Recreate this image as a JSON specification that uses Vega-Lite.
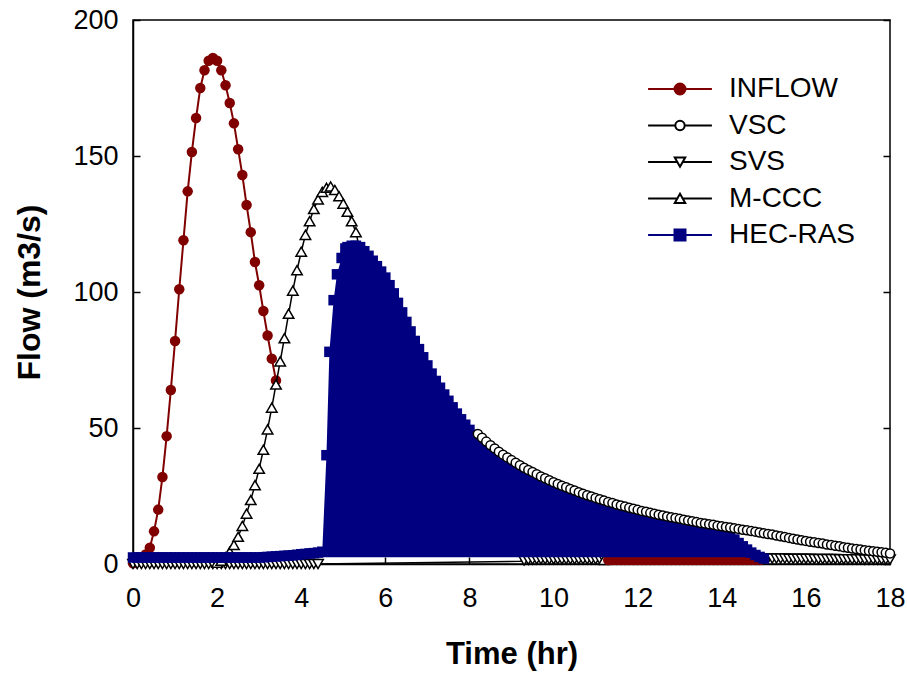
{
 "$schema": "https://vega.github.io/schema/vega-lite/v6.json",
 "width": 757, "height": 544, "autosize": "none",
 "padding": {"left": 133, "top": 20, "right": 17, "bottom": 109},
 "background": "white",
 "config": {
  "view": {"stroke": "black", "strokeWidth": 1.5},
  "font": "Liberation Sans",
  "axis": {"grid": false, "domainColor": "black", "domainWidth": 1.5, "tickColor": "black", "tickWidth": 1.5, "tickSize": -7,
   "labelFont": "Liberation Sans", "labelFontSize": 27, "labelColor": "black", "labelFlush": false, "labelOverlap": false,
   "titleFont": "Liberation Sans", "titleFontSize": 31, "titleFontWeight": "bold", "titleColor": "black"},
  "legend": {"symbolFillColor": "white", "symbolStrokeColor": "black"}
 },
 "datasets": {
  "inflow": [{"t":0,"q":0.3},{"t":0.1,"q":0.8},{"t":0.2,"q":1.8},{"t":0.3,"q":3.5},{"t":0.4,"q":6},{"t":0.5,"q":12},{"t":0.6,"q":20},{"t":0.7,"q":32},{"t":0.8,"q":47},{"t":0.9,"q":64},{"t":1.0,"q":82},{"t":1.1,"q":101},{"t":1.2,"q":119},{"t":1.3,"q":137},{"t":1.4,"q":151.5},{"t":1.5,"q":164},{"t":1.6,"q":175},{"t":1.7,"q":181.5},{"t":1.8,"q":185},{"t":1.9,"q":186},{"t":2.0,"q":185},{"t":2.1,"q":181.5},{"t":2.2,"q":176},{"t":2.3,"q":169.5},{"t":2.4,"q":162},{"t":2.5,"q":152.5},{"t":2.6,"q":143},{"t":2.7,"q":132},{"t":2.8,"q":122},{"t":2.9,"q":111},{"t":3.0,"q":102.5},{"t":3.1,"q":93},{"t":3.2,"q":84},{"t":3.3,"q":75.5},{"t":3.4,"q":67.5}],
  "inflowLow": [{"t":11.3,"q":1.5},{"t":11.4,"q":1.5},{"t":11.5,"q":1.5},{"t":11.6,"q":1.5},{"t":11.7,"q":1.5},{"t":11.8,"q":1.5},{"t":11.9,"q":1.5},{"t":12.0,"q":1.5},{"t":12.1,"q":1.5},{"t":12.2,"q":1.5},{"t":12.3,"q":1.5},{"t":12.4,"q":1.5},{"t":12.5,"q":1.5},{"t":12.6,"q":1.5},{"t":12.7,"q":1.5},{"t":12.8,"q":1.5},{"t":12.9,"q":1.5},{"t":13.0,"q":1.5},{"t":13.1,"q":1.5},{"t":13.2,"q":1.5},{"t":13.3,"q":1.5},{"t":13.4,"q":1.5},{"t":13.5,"q":1.5},{"t":13.6,"q":1.5},{"t":13.7,"q":1.5},{"t":13.8,"q":1.5},{"t":13.9,"q":1.5},{"t":14.0,"q":1.5},{"t":14.1,"q":1.5},{"t":14.2,"q":1.5},{"t":14.3,"q":1.5},{"t":14.4,"q":1.5},{"t":14.5,"q":1.5},{"t":14.6,"q":1.5},{"t":14.7,"q":1.5},{"t":14.8,"q":1.5},{"t":14.9,"q":1.5}],
  "vsc": [{"t":8.2,"q":47.8},{"t":8.3,"q":46.4},{"t":8.4,"q":45},{"t":8.5,"q":43.7},{"t":8.6,"q":42.5},{"t":8.7,"q":41.3},{"t":8.8,"q":40.2},{"t":8.9,"q":39.2},{"t":9.0,"q":38.2},{"t":9.1,"q":37.2},{"t":9.2,"q":36.3},{"t":9.3,"q":35.4},{"t":9.4,"q":34.6},{"t":9.5,"q":33.8},{"t":9.6,"q":33},{"t":9.7,"q":32.2},{"t":9.8,"q":31.5},{"t":9.9,"q":30.8},{"t":10.0,"q":30.1},{"t":10.1,"q":29.4},{"t":10.2,"q":28.8},{"t":10.3,"q":28.2},{"t":10.4,"q":27.6},{"t":10.5,"q":27},{"t":10.6,"q":26.4},{"t":10.7,"q":25.8},{"t":10.8,"q":25.3},{"t":10.9,"q":24.8},{"t":11.0,"q":24.3},{"t":11.1,"q":23.8},{"t":11.2,"q":23.3},{"t":11.3,"q":22.8},{"t":11.4,"q":22.4},{"t":11.5,"q":21.9},{"t":11.6,"q":21.5},{"t":11.7,"q":21.1},{"t":11.8,"q":20.7},{"t":11.9,"q":20.3},{"t":12.0,"q":19.9},{"t":12.1,"q":19.5},{"t":12.2,"q":19.2},{"t":12.3,"q":18.8},{"t":12.4,"q":18.5},{"t":12.5,"q":18.1},{"t":12.6,"q":17.8},{"t":12.7,"q":17.5},{"t":12.8,"q":17.2},{"t":12.9,"q":16.9},{"t":13.0,"q":16.6},{"t":13.1,"q":16.3},{"t":13.2,"q":16},{"t":13.3,"q":15.7},{"t":13.4,"q":15.4},{"t":13.5,"q":15.1},{"t":13.6,"q":14.9},{"t":13.7,"q":14.6},{"t":13.8,"q":14.4},{"t":13.9,"q":14.1},{"t":14.0,"q":13.9},{"t":14.1,"q":13.6},{"t":14.2,"q":13.4},{"t":14.3,"q":13.1},{"t":14.4,"q":12.9},{"t":14.5,"q":12.6},{"t":14.6,"q":12.4},{"t":14.7,"q":12.1},{"t":14.8,"q":11.9},{"t":14.9,"q":11.6},{"t":15.0,"q":11.3},{"t":15.1,"q":11},{"t":15.2,"q":10.8},{"t":15.3,"q":10.5},{"t":15.4,"q":10.2},{"t":15.5,"q":9.9},{"t":15.6,"q":9.6},{"t":15.7,"q":9.3},{"t":15.8,"q":9},{"t":15.9,"q":8.7},{"t":16.0,"q":8.5},{"t":16.1,"q":8.2},{"t":16.2,"q":8},{"t":16.3,"q":7.7},{"t":16.4,"q":7.5},{"t":16.5,"q":7.2},{"t":16.6,"q":7},{"t":16.7,"q":6.7},{"t":16.8,"q":6.5},{"t":16.9,"q":6.2},{"t":17.0,"q":6},{"t":17.1,"q":5.7},{"t":17.2,"q":5.5},{"t":17.3,"q":5.3},{"t":17.4,"q":5.1},{"t":17.5,"q":4.9},{"t":17.6,"q":4.7},{"t":17.7,"q":4.5},{"t":17.8,"q":4.3},{"t":17.9,"q":4.1},{"t":18.0,"q":3.9}],
  "svs": [{"t":0,"q":0},{"t":0.1,"q":0},{"t":0.2,"q":0},{"t":0.3,"q":0},{"t":0.4,"q":0},{"t":0.5,"q":0},{"t":0.6,"q":0},{"t":0.7,"q":0},{"t":0.8,"q":0},{"t":0.9,"q":0},{"t":1.0,"q":0},{"t":1.1,"q":0},{"t":1.2,"q":0},{"t":1.3,"q":0},{"t":1.4,"q":0},{"t":1.5,"q":0},{"t":1.6,"q":0},{"t":1.7,"q":0},{"t":1.8,"q":0},{"t":1.9,"q":0},{"t":2.0,"q":0},{"t":2.1,"q":0},{"t":2.2,"q":0},{"t":2.3,"q":0},{"t":2.4,"q":0},{"t":2.5,"q":0},{"t":2.6,"q":0},{"t":2.7,"q":0},{"t":2.8,"q":0},{"t":2.9,"q":0},{"t":3.0,"q":0},{"t":3.1,"q":0},{"t":3.2,"q":0},{"t":3.3,"q":0},{"t":3.4,"q":0},{"t":3.5,"q":0},{"t":3.6,"q":0},{"t":3.7,"q":0},{"t":3.8,"q":0},{"t":3.9,"q":0},{"t":4.0,"q":0},{"t":4.1,"q":0},{"t":4.2,"q":0},{"t":4.3,"q":0},{"t":4.4,"q":0},{"t":9.2,"q":1.0},{"t":9.3,"q":1.3},{"t":9.4,"q":1.5},{"t":9.5,"q":1.6},{"t":9.6,"q":1.7},{"t":9.7,"q":1.7},{"t":9.8,"q":1.7},{"t":9.9,"q":1.7},{"t":10.0,"q":1.7},{"t":10.1,"q":1.7},{"t":10.2,"q":1.7},{"t":10.3,"q":1.7},{"t":10.4,"q":1.7},{"t":10.5,"q":1.7},{"t":10.6,"q":1.7},{"t":10.7,"q":1.7},{"t":10.8,"q":1.7},{"t":10.9,"q":1.7},{"t":11.0,"q":1.7},{"t":11.1,"q":1.7},{"t":11.2,"q":1.7},{"t":15.0,"q":2.0},{"t":15.1,"q":2.0},{"t":15.2,"q":2.0},{"t":15.3,"q":2.0},{"t":15.4,"q":2.0},{"t":15.5,"q":2.0},{"t":15.6,"q":1.9},{"t":15.7,"q":1.9},{"t":15.8,"q":1.9},{"t":15.9,"q":1.9},{"t":16.0,"q":1.9},{"t":16.1,"q":1.9},{"t":16.2,"q":1.8},{"t":16.3,"q":1.8},{"t":16.4,"q":1.8},{"t":16.5,"q":1.8},{"t":16.6,"q":1.8},{"t":16.7,"q":1.8},{"t":16.8,"q":1.7},{"t":16.9,"q":1.7},{"t":17.0,"q":1.7},{"t":17.1,"q":1.7},{"t":17.2,"q":1.7},{"t":17.3,"q":1.7},{"t":17.4,"q":1.6},{"t":17.5,"q":1.6},{"t":17.6,"q":1.6},{"t":17.7,"q":1.6},{"t":17.8,"q":1.6},{"t":17.9,"q":1.6},{"t":18.0,"q":1.6}],
  "mccc": [{"t":2.0,"q":0.5},{"t":2.1,"q":1.2},{"t":2.2,"q":2.5},{"t":2.3,"q":4.5},{"t":2.4,"q":7},{"t":2.5,"q":10},{"t":2.6,"q":14},{"t":2.7,"q":18.5},{"t":2.8,"q":23.5},{"t":2.9,"q":29},{"t":3.0,"q":35},{"t":3.1,"q":42},{"t":3.2,"q":49.5},{"t":3.3,"q":57.5},{"t":3.4,"q":66},{"t":3.5,"q":74.5},{"t":3.6,"q":83},{"t":3.7,"q":92},{"t":3.8,"q":100.5},{"t":3.9,"q":108},{"t":4.0,"q":114.8},{"t":4.1,"q":121},{"t":4.2,"q":126},{"t":4.3,"q":130.5},{"t":4.4,"q":134},{"t":4.5,"q":136.8},{"t":4.6,"q":138.3},{"t":4.7,"q":138.8},{"t":4.8,"q":137.5},{"t":4.9,"q":135.2},{"t":5.0,"q":132.5},{"t":5.1,"q":129.5},{"t":5.2,"q":126},{"t":5.3,"q":122},{"t":5.4,"q":115},{"t":5.6,"q":111.8},{"t":5.8,"q":108},{"t":6.0,"q":103.8},{"t":6.3,"q":94.5},{"t":6.6,"q":84},{"t":7.0,"q":71.5},{"t":7.4,"q":60.8},{"t":7.8,"q":51.7},{"t":8.2,"q":44.3},{"t":8.6,"q":38.1},{"t":9.0,"q":33.5},{"t":9.5,"q":29.1},{"t":10.0,"q":25.4},{"t":10.5,"q":22.3},{"t":11.1,"q":19.1},{"t":11.2,"q":1.5}],
  "hec": [{"t":0,"q":2.4},{"t":0.1,"q":2.4},{"t":0.2,"q":2.4},{"t":0.3,"q":2.4},{"t":0.4,"q":2.4},{"t":0.5,"q":2.4},{"t":0.6,"q":2.4},{"t":0.7,"q":2.4},{"t":0.8,"q":2.4},{"t":0.9,"q":2.4},{"t":1.0,"q":2.4},{"t":1.1,"q":2.4},{"t":1.2,"q":2.4},{"t":1.3,"q":2.4},{"t":1.4,"q":2.4},{"t":1.5,"q":2.4},{"t":1.6,"q":2.4},{"t":1.7,"q":2.4},{"t":1.8,"q":2.4},{"t":1.9,"q":2.4},{"t":2.0,"q":2.4},{"t":2.1,"q":2.4},{"t":2.2,"q":2.4},{"t":2.3,"q":2.4},{"t":2.4,"q":2.4},{"t":2.5,"q":2.4},{"t":2.6,"q":2.4},{"t":2.7,"q":2.4},{"t":2.8,"q":2.4},{"t":2.9,"q":2.4},{"t":3.0,"q":2.4},{"t":3.1,"q":2.5},{"t":3.2,"q":2.6},{"t":3.3,"q":2.7},{"t":3.4,"q":2.8},{"t":3.5,"q":2.9},{"t":3.6,"q":3.0},{"t":3.7,"q":3.1},{"t":3.8,"q":3.2},{"t":3.9,"q":3.4},{"t":4.0,"q":3.6},{"t":4.1,"q":3.7},{"t":4.2,"q":3.9},{"t":4.3,"q":4.0},{"t":4.4,"q":4.2},{"t":4.5,"q":4.5},{"t":4.6,"q":40},{"t":4.67,"q":78},{"t":4.77,"q":97},{"t":4.85,"q":106.5},{"t":4.96,"q":112.5},{"t":5.05,"q":116},{"t":5.1,"q":116.5},{"t":5.2,"q":117},{"t":5.3,"q":117},{"t":5.4,"q":116.5},{"t":5.5,"q":115},{"t":5.6,"q":113.3},{"t":5.7,"q":111.5},{"t":5.8,"q":109.5},{"t":5.9,"q":107.5},{"t":6.0,"q":105.3},{"t":6.1,"q":102.5},{"t":6.2,"q":99.5},{"t":6.3,"q":96},{"t":6.4,"q":92.5},{"t":6.5,"q":89},{"t":6.6,"q":85.5},{"t":6.7,"q":82},{"t":6.8,"q":79},{"t":6.9,"q":76},{"t":7.0,"q":73},{"t":7.1,"q":70},{"t":7.2,"q":67.3},{"t":7.3,"q":64.8},{"t":7.4,"q":62.3},{"t":7.5,"q":60},{"t":7.6,"q":57.6},{"t":7.7,"q":55.3},{"t":7.8,"q":53.2},{"t":7.9,"q":51.2},{"t":8.0,"q":49.3},{"t":8.1,"q":47.5},{"t":8.2,"q":45.8},{"t":8.3,"q":44.2},{"t":8.4,"q":42.7},{"t":8.5,"q":41.2},{"t":8.6,"q":39.6},{"t":8.7,"q":38.3},{"t":8.8,"q":37.0},{"t":8.9,"q":36.0},{"t":9.0,"q":35.0},{"t":9.1,"q":34.0},{"t":9.2,"q":33.1},{"t":9.3,"q":32.2},{"t":9.4,"q":31.4},{"t":9.5,"q":30.6},{"t":9.6,"q":29.8},{"t":9.7,"q":29.0},{"t":9.8,"q":28.3},{"t":9.9,"q":27.6},{"t":10.0,"q":26.9},{"t":10.1,"q":26.2},{"t":10.2,"q":25.6},{"t":10.3,"q":25.0},{"t":10.4,"q":24.4},{"t":10.5,"q":23.8},{"t":10.6,"q":23.2},{"t":10.7,"q":22.6},{"t":10.8,"q":22.1},{"t":10.9,"q":21.6},{"t":11.0,"q":21.1},{"t":11.1,"q":20.6},{"t":11.2,"q":20.1},{"t":11.3,"q":19.6},{"t":11.4,"q":19.2},{"t":11.5,"q":18.7},{"t":11.6,"q":18.3},{"t":11.7,"q":17.9},{"t":11.8,"q":17.5},{"t":11.9,"q":17.1},{"t":12.0,"q":16.7},{"t":12.1,"q":16.3},{"t":12.2,"q":16.0},{"t":12.3,"q":15.6},{"t":12.4,"q":15.3},{"t":12.5,"q":14.9},{"t":12.6,"q":14.6},{"t":12.7,"q":14.3},{"t":12.8,"q":14.0},{"t":12.9,"q":13.7},{"t":13.0,"q":13.4},{"t":13.1,"q":13.1},{"t":13.2,"q":12.8},{"t":13.3,"q":12.5},{"t":13.4,"q":12.2},{"t":13.5,"q":11.9},{"t":13.6,"q":11.7},{"t":13.7,"q":11.4},{"t":13.8,"q":11.2},{"t":13.9,"q":10.9},{"t":14.0,"q":10.7},{"t":14.1,"q":10.4},{"t":14.2,"q":10.2},{"t":14.3,"q":9.0},{"t":14.4,"q":7.7},{"t":14.5,"q":6.5},{"t":14.6,"q":5.3},{"t":14.7,"q":4.2},{"t":14.8,"q":3.3},{"t":14.9,"q":2.6},{"t":15.0,"q":2.0}]
 },
 "layer": [
  {
   "encoding": {
    "x": {"field": "t", "type": "quantitative", "scale": {"domain": [0, 18], "nice": false, "zero": false},
     "axis": {"values": [0,2,4,6,8,10,12,14,16,18], "title": "Time (hr)", "labelPadding": 28, "titlePadding": 28}},
    "y": {"field": "q", "type": "quantitative", "scale": {"domain": [0, 200], "nice": false},
     "axis": {"values": [0,50,100,150,200], "title": "Flow (m3/s)", "labelPadding": 22, "titlePadding": 26, "titleFontSize": 32}}
   },
   "layer": [
    {"data": {"name": "inflow"}, "mark": {"type": "line", "color": "#800000", "strokeWidth": 2}},
    {"data": {"name": "inflow"}, "mark": {"type": "point", "shape": "circle", "size": 110, "filled": true, "color": "#800000", "opacity": 1}},
    {"data": {"name": "vsc"}, "mark": {"type": "line", "color": "black", "strokeWidth": 1.5}},
    {"data": {"name": "svs"}, "mark": {"type": "line", "color": "black", "strokeWidth": 1.5}},
    {"data": {"name": "svs"}, "transform": [{"filter": "datum.t <= 4.45 || datum.t >= 9.25"}],
     "mark": {"type": "point", "shape": "triangle-down", "size": 110, "filled": true, "fill": "white", "stroke": "black", "strokeWidth": 1.5, "opacity": 1}},
    {"data": {"name": "mccc"}, "mark": {"type": "line", "color": "black", "strokeWidth": 1.5}},
    {"data": {"name": "mccc"}, "mark": {"type": "point", "shape": "triangle-up", "size": 110, "filled": true, "fill": "white", "stroke": "black", "strokeWidth": 1.5, "opacity": 1}},
    {"data": {"name": "inflowLow"}, "mark": {"type": "line", "color": "#800000", "strokeWidth": 2}},
    {"data": {"name": "inflowLow"}, "mark": {"type": "point", "shape": "circle", "size": 110, "filled": true, "color": "#800000", "opacity": 1}},
    {"data": {"name": "hec"}, "mark": {"type": "area", "color": "#000080", "opacity": 1}, "encoding": {"y2": {"datum": 2.5}}},
    {"data": {"name": "hec"}, "mark": {"type": "point", "shape": "square", "size": 110, "filled": true, "color": "#000080", "opacity": 1}},
    {"data": {"values": [{"series": "INFLOW"}, {"series": "VSC"}, {"series": "SVS"}, {"series": "M-CCC"}, {"series": "HEC-RAS"}]},
     "mark": {"type": "point", "filled": true, "opacity": 0, "strokeWidth": 2},
     "encoding": {
      "shape": {"field": "series", "type": "nominal",
       "scale": {"domain": ["INFLOW", "VSC", "SVS", "M-CCC", "HEC-RAS"],
        "range": ["M-5.8,0H-1M1,0H5.8M-1,0A1,1 0 1,0 1,0A1,1 0 1,0 -1,0Z",
                  "M-5.8,0H-0.85M0.85,0H5.8M-0.85,0A0.85,0.85 0 1,0 0.85,0A0.85,0.85 0 1,0 -0.85,0Z",
                  "M-5.8,0H-0.5M0.5,0H5.8M-0.95,-0.8L0.95,-0.8L0,0.85Z",
                  "M-5.8,0H-0.5M0.5,0H5.8M0,-0.85L0.95,0.8L-0.95,0.8Z",
                  "M-5.8,0H-1M1,0H5.8M-1,-1H1V1H-1Z"]},
       "legend": {"title": null, "orient": "none", "legendX": 533, "legendY": 55, "labelFontSize": 28, "labelFont": "Liberation Sans", "labelColor": "black",
        "symbolSize": 121, "symbolStrokeWidth": 2, "labelOffset": 35, "rowPadding": 8.5, "symbolFillColor": "white", "symbolStrokeColor": "black"}},
      "fill": {"field": "series", "type": "nominal",
       "scale": {"domain": ["INFLOW", "VSC", "SVS", "M-CCC", "HEC-RAS"], "range": ["#800000", "white", "white", "white", "#000080"]},
       "legend": {"title": null, "orient": "none", "legendX": 533, "legendY": 55, "labelFontSize": 28, "labelFont": "Liberation Sans", "labelColor": "black",
        "symbolSize": 121, "symbolStrokeWidth": 2, "labelOffset": 35, "rowPadding": 8.5, "symbolFillColor": "white", "symbolStrokeColor": "black"}},
      "stroke": {"field": "series", "type": "nominal",
       "scale": {"domain": ["INFLOW", "VSC", "SVS", "M-CCC", "HEC-RAS"], "range": ["#800000", "black", "black", "black", "#000080"]},
       "legend": {"title": null, "orient": "none", "legendX": 533, "legendY": 55, "labelFontSize": 28, "labelFont": "Liberation Sans", "labelColor": "black",
        "symbolSize": 121, "symbolStrokeWidth": 2, "labelOffset": 35, "rowPadding": 8.5, "symbolFillColor": "white", "symbolStrokeColor": "black"}}
     }}
   ]
  },
  {
   "data": {"name": "vsc"},
   "mark": {"type": "point", "shape": "circle", "size": 81, "filled": true, "fill": "white", "stroke": "black", "strokeWidth": 1.5, "opacity": 1},
   "encoding": {
    "x": {"field": "t", "type": "quantitative", "axis": null},
    "y": {"field": "q", "type": "quantitative", "axis": {"orient": "right", "values": [0,50,100,150,200], "labels": false, "title": null, "domain": false}}
   }
  }
 ],
 "resolve": {"axis": {"x": "independent", "y": "independent"}}
}
